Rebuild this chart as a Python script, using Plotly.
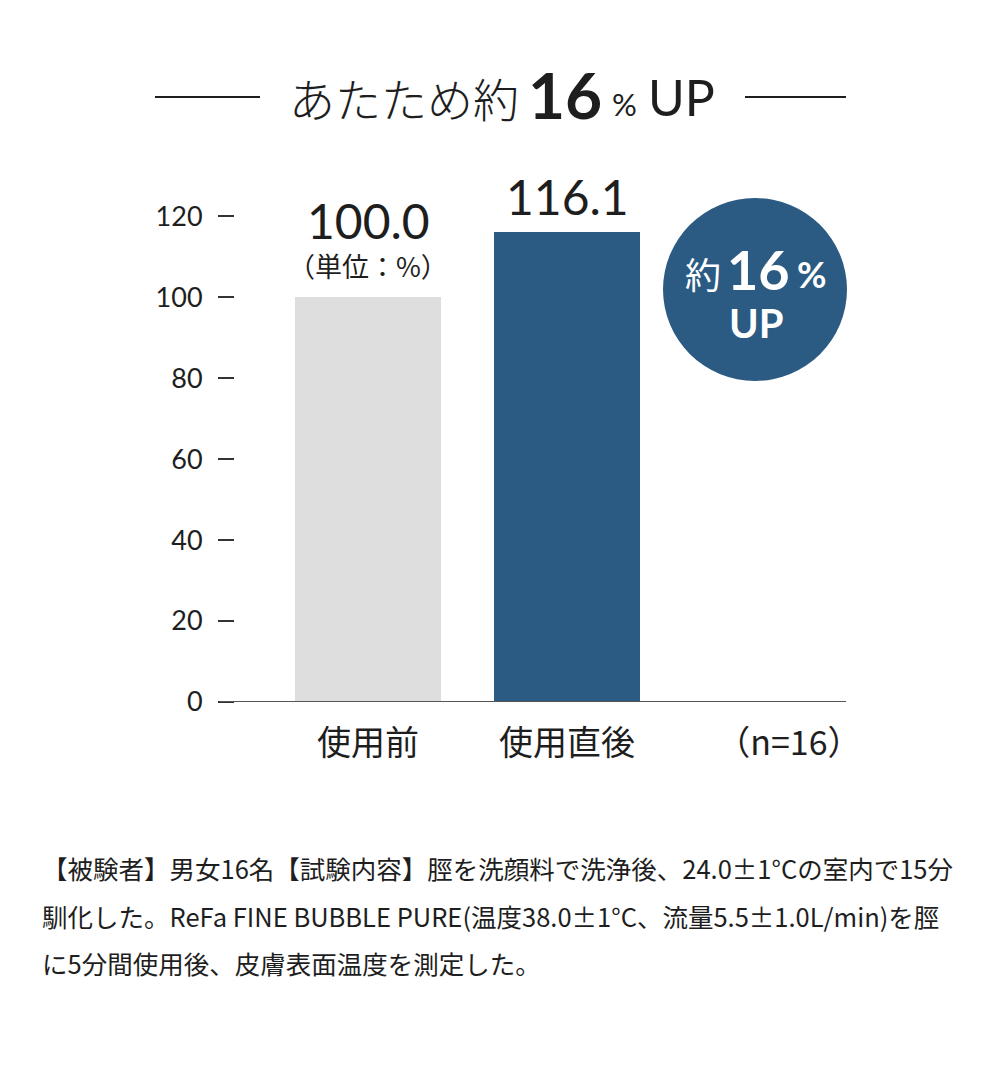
import plotly.graph_objects as go

# ---- data ----
categories = ["使用前", "使用直後"]
values = [100.0, 116.1]
value_labels = ["100.0", "116.1"]
bar_colors = ["#dedede", "#2b5b83"]
y_ticks = [0, 20, 40, 60, 80, 100, 120]
sample_note = "（n=16）"
unit_label = "（単位：%）"
title_lead = "あたため約"
title_number = "16"
title_pct = "%"
title_tail = "UP"
badge_prefix = "約"
badge_number = "16"
badge_pct = "%"
badge_tail = "UP"
footnote_lines = [
    "【被験者】男女16名【試験内容】脛を洗顔料で洗浄後、24.0±1°Cの室内で15分",
    "馴化した。ReFa FINE BUBBLE PURE(温度38.0±1°C、流量5.5±1.0L/min)を脛",
    "に5分間使用後、皮膚表面温度を測定した。",
]

# ---- layout geometry (pixels) ----
W, H = 1000, 1075
L, R, T, B = 235, 846, 196, 702
NUM_FONT = "Lato, Noto Sans CJK JP, sans-serif"
JP_FONT = "Noto Sans CJK JP, sans-serif"
TEXT = "#1e1e1e"
BLUE = "#2b5b83"


def px(x):
    return (x - L) / (R - L)


def py(y):
    return (B - y) / (B - T)


def paper_text(x, y, text, size, family=NUM_FONT, color=TEXT, weight=None,
               xanchor="center", yanchor="middle"):
    f = dict(family=family, size=size, color=color)
    if weight is not None:
        f["weight"] = weight
    return dict(x=px(x), y=py(y), xref="paper", yref="paper", text=text,
                showarrow=False, xanchor=xanchor, yanchor=yanchor, font=f)


xs = list(range(len(categories)))
x_note = 2.115

fig = go.Figure()
fig.add_trace(go.Bar(
    x=xs, y=values, width=0.734,
    marker=dict(color=bar_colors, line=dict(width=0)),
    hoverinfo="skip", showlegend=False,
))

annotations = []
# value labels
for i, (v, lab) in enumerate(zip(values, value_labels)):
    shift = 46 if i == 0 else 5
    annotations.append(dict(x=xs[i], y=v, xref="x", yref="y", text=lab,
                            showarrow=False, yanchor="bottom", yshift=shift,
                            font=dict(family=NUM_FONT, size=48, color=TEXT)))
annotations.append(dict(x=xs[0], y=values[0], xref="x", yref="y", text=unit_label,
                        showarrow=False, yanchor="bottom", yshift=10,
                        font=dict(family=JP_FONT, size=27, color=TEXT)))

# title pieces
annotations.append(paper_text(404, 97, title_lead, 46, family=JP_FONT, weight=300))
annotations.append(paper_text(565, 94, f"<b>{title_number}</b>", 64))
annotations.append(paper_text(624, 104, title_pct, 31))
annotations.append(paper_text(681, 97, title_tail, 50, weight=400))

# badge texts
annotations.append(paper_text(703, 273, badge_prefix, 36, family=JP_FONT, color="white"))
annotations.append(paper_text(758, 269, f"<b>{badge_number}</b>", 54, color="white"))
annotations.append(paper_text(812, 274, f"<b>{badge_pct}</b>", 36, color="white"))
annotations.append(paper_text(756, 323, f"<b>{badge_tail}</b>", 40, color="white"))

# footnotes
for k, line in enumerate(footnote_lines):
    annotations.append(paper_text(40, 868 + 47 * k, line, 25.5, family=JP_FONT,
                                  xanchor="left"))

shapes = [
    dict(type="line", xref="paper", yref="paper", x0=px(155), x1=px(260),
         y0=py(97), y1=py(97), line=dict(color=TEXT, width=2)),
    dict(type="line", xref="paper", yref="paper", x0=px(745), x1=px(846),
         y0=py(97), y1=py(97), line=dict(color=TEXT, width=2)),
    dict(type="line", xref="paper", yref="y", x0=px(220), x1=1, y0=0, y1=0,
         line=dict(color="#555555", width=2)),
    dict(type="circle", xref="paper", yref="paper", x0=px(663), x1=px(847),
         y0=py(381), y1=py(198), fillcolor=BLUE, line=dict(width=0)),
]

x0_px, step_px = 368, 199
fig.update_layout(
    width=W, height=H,
    margin=dict(l=L, r=W - R, t=T, b=H - B),
    paper_bgcolor="white", plot_bgcolor="white",
    xaxis=dict(range=[-(x0_px - L) / step_px, (R - x0_px) / step_px],
               tickvals=xs + [x_note], ticktext=categories + [sample_note],
               ticks="", showgrid=False, zeroline=False, showline=False,
               tickfont=dict(family=JP_FONT, size=34, color=TEXT),
               ticklabelstandoff=18, fixedrange=True),
    yaxis=dict(range=[0, 125], tickvals=y_ticks, ticks="outside", ticklen=16,
               tickwidth=1.5, tickcolor="#333333", showgrid=False, zeroline=False,
               showline=False, tickfont=dict(family=NUM_FONT, size=27, color=TEXT),
               ticklabelstandoff=10, fixedrange=True),
    annotations=annotations, shapes=shapes, bargap=0,
)

fig.write_html("out.html", config={"displayModeBar": False},
               post_script="document.body.style.margin='0px';")
